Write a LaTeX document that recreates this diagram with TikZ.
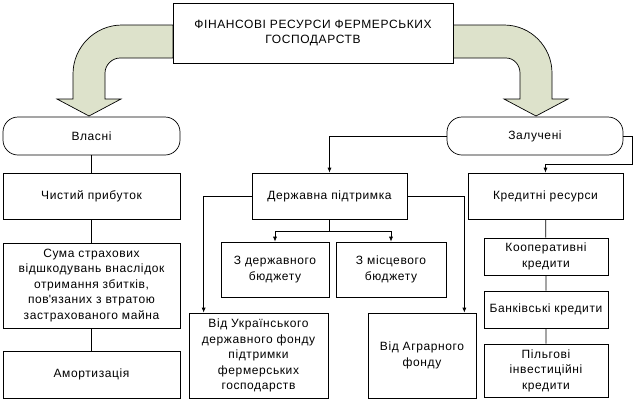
\documentclass[tikz,border=0pt]{standalone}
\usepackage{fontspec}
\setmainfont[LetterSpace=5]{Liberation Sans}
\usepackage{tikz}
\usetikzlibrary{arrows.meta}
\definecolor{bandfill}{RGB}{221,226,203}
\tikzstyle{box} = [draw,line width=0.7pt,fill=white,align=center,inner sep=1pt,font=\fontsize{12}{15.5}\selectfont]
\tikzstyle{rbox} = [box,rounded corners=15pt]
\tikzstyle{line} = [line width=0.7pt]
\tikzstyle{arrow} = [line width=0.7pt,-{Latex[length=5pt,width=4pt]}]
\tikzstyle{band} = [draw,line width=0.7pt,fill=bandfill]

\begin{document}
\begin{tikzpicture}[x=1pt,y=-1pt]
	\useasboundingbox (0,0) rectangle (642,400);
	
	% Big curved arrows:
	\draw[band] (173,25) -- (122,25) .. controls (95,25) and (73,47) .. (73,74)
		-- (73,99) -- (57,99) -- (89,116) -- (121,99) -- (105,99) -- (105,73)
		.. controls (105,65) and (112,58) .. (120,58) -- (173,58) -- cycle;
	\draw[band] (453,25) -- (504,25) .. controls (531,25) and (552,47) .. (552,73)
		-- (552,99) -- (568,99) -- (536,116) -- (504,99) -- (520,99) -- (520,73)
		.. controls (520,65) and (514,58) .. (506,58) -- (453,58) -- cycle;
	
	% Boxes:
	\node[box, minimum width=280pt, minimum height=60pt] (top) at (313,33) {ФІНАНСОВІ РЕСУРСИ ФЕРМЕРСЬКИХ\\ГОСПОДАРСТВ};
	\node[rbox, minimum width=177pt, minimum height=38pt] (vlasni) at (91.5,136) {Власні};
	\node[rbox, minimum width=176pt, minimum height=38pt] (zaluch) at (535,136) {Залучені};
	
	\node[box, minimum width=177pt, minimum height=46pt] (chyst) at (91.5,196) {Чистий прибуток};
	\node[box, minimum width=177pt, minimum height=85pt] (suma) at (91.5,285.5) {Сума страхових\\відшкодувань внаслідок\\отримання збитків,\\пов\textquotesingle язаних з втратою\\застрахованого майна};
	\node[box, minimum width=177pt, minimum height=47pt] (amort) at (91.5,374.5) {Амортизація};
	
	\node[box, minimum width=155pt, minimum height=46pt] (derzh) at (329.5,196) {Державна підтримка};
	\node[box, minimum width=108pt, minimum height=55pt] (zderzh) at (275,269.5) {З державного\\бюджету};
	\node[box, minimum width=110pt, minimum height=55pt] (zmisc) at (391,269.5) {З місцевого\\бюджету};
	\node[box, minimum width=139pt, minimum height=85pt] (vidukr) at (258.5,355.5) {Від Українського\\державного фонду\\підтримки\\фермерських\\господарств};
	\node[box, minimum width=108pt, minimum height=85pt] (vidagr) at (422,355.5) {Від Аграрного\\фонду};
	
	\node[box, minimum width=155pt, minimum height=46pt] (kredyt) at (545.5,196) {Кредитні ресурси};
	\node[box, minimum width=124pt, minimum height=37pt] (koop) at (546,256.5) {Кооперативні\\кредити};
	\node[box, minimum width=124pt, minimum height=37pt] (bank) at (546,309.5) {Банківські кредити};
	\node[box, minimum width=124pt, minimum height=53pt] (pilg) at (546,370.5) {Пільгові\\інвестиційні\\кредити};
	
	% Connectors:
	\draw[line] (vlasni) -- (chyst) -- (suma) -- (amort);
	\draw[line] (kredyt) -- (koop) -- (bank) -- (pilg);
	
	\coordinate (zr) at (632,164);
	\coordinate (db) at (329.5,231);
	\draw[arrow] (zaluch.west) -| (derzh.north);
	\draw[arrow] (zaluch.east) -| (zr) -| (kredyt.north);
	\draw[line] (derzh.south) -- (db);
	\draw[arrow] (db) -| (zderzh.north);
	\draw[arrow] (db) -| (zmisc.north);
	\draw[arrow] (derzh.west) -| ([xshift=15pt]vidukr.north west);
	\draw[arrow] (derzh.east) -| ([xshift=-12pt]vidagr.north east);
\end{tikzpicture}
\end{document}
